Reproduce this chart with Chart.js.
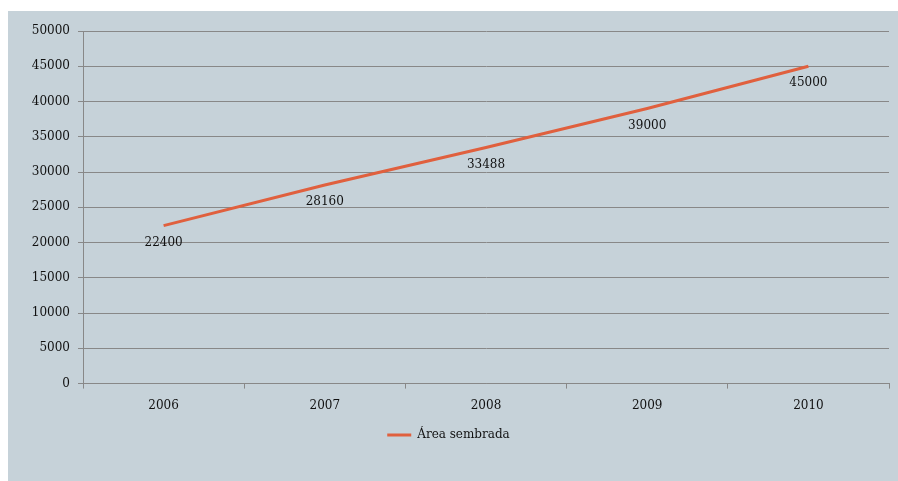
<!DOCTYPE html>
<html>
<head>
<meta charset="utf-8">
<script src="https://cdn.jsdelivr.net/npm/chart.js@4/dist/chart.umd.min.js"></script>
<style>
  html, body { margin: 0; padding: 0; background: #fff; }
  #wrap { position: absolute; left: 8px; top: 11px; width: 890px; height: 470px; background: #c6d2d9; }
</style>
</head>
<body>
<div id="wrap"><canvas id="myChart" width="890" height="470"></canvas></div>
<script>
const labels = ['2006', '2007', '2008', '2009', '2010'];
const areaSembrada = [22400, 28160, 33488, 39000, 45000];
const yTicks = [0, 5000, 10000, 15000, 20000, 25000, 30000, 35000, 40000, 45000, 50000];

const lineColor = '#e0603e';
const gridColor = '#888888';
const textColor = '#111111';

Chart.defaults.font.family = "'DejaVu Serif', serif";
Chart.defaults.font.size = 12;
Chart.defaults.color = textColor;

// draws the value under each point
const valueLabels = {
  id: 'valueLabels',
  afterDatasetsDraw(chart) {
    const ctx = chart.ctx;
    const meta = chart.getDatasetMeta(0);
    ctx.save();
    ctx.font = "12px 'DejaVu Serif', serif";
    ctx.fillStyle = textColor;
    ctx.textAlign = 'center';
    ctx.textBaseline = 'middle';
    meta.data.forEach((pt, i) => {
      ctx.fillText(String(chart.data.datasets[0].data[i]), pt.x, pt.y + 17);
    });
    ctx.restore();
  }
};

const ctx = document.getElementById('myChart').getContext('2d');

const myChart = new Chart(ctx, {
  type: 'line',
  data: {
    labels,
    datasets: [{
      label: 'Área sembrada',
      data: areaSembrada,
      borderColor: lineColor,
      backgroundColor: lineColor,
      borderWidth: 3,
      pointRadius: 0,
      tension: 0,
    }],
  },
  options: {
    responsive: false,
    animation: false,
    layout: { padding: { top: 20, right: 9, bottom: 30, left: 0 } },
    plugins: {
      legend: {
        position: 'bottom',
        labels: {
          usePointStyle: true,
          pointStyle: 'line',
          pointStyleWidth: 24,
          padding: 6,
          color: textColor,
        },
      },
      tooltip: { enabled: false },
    },
    scales: {
      x: {
        offset: true,
        grid: { offset: true, drawOnChartArea: false, color: gridColor, tickLength: 5 },
        border: { color: gridColor },
        ticks: { padding: 10 },
      },
      y: {
        min: 0,
        max: 50000,
        afterBuildTicks: (s) => { s.ticks = yTicks.map(v => ({ value: v })); },
        afterFit: (s) => { s.width = 75; },
        grid: { color: gridColor, tickLength: 5 },
        border: { color: gridColor },
        ticks: { padding: 8, callback: (v) => String(v) },
      },
    },
  },
  plugins: [valueLabels],
});
</script>
</body>
</html>
